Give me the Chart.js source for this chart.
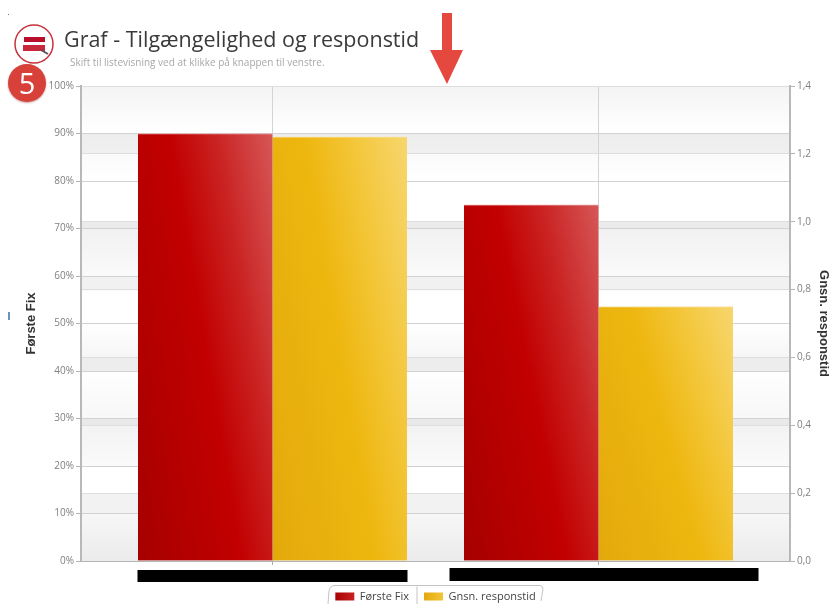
<!DOCTYPE html>
<html>
<head>
<meta charset="utf-8">
<title>Graf - Tilgængelighed og responstid</title>
<script src="https://cdn.jsdelivr.net/npm/chart.js@4"></script>
<style>
  html, body { margin: 0; padding: 0; background: #fff; }
  #wrap { position: relative; width: 831px; height: 604px; overflow: hidden; }
  #myChart { position: absolute; left: 0; top: 0; }
  #heading { position: absolute; left: 64px; top: 24px; margin: 0; font: 400 21.5px "Open Sans", sans-serif; color: #3a3a3a; white-space: nowrap; }
  #sub { position: absolute; left: 70px; top: 55px; font: 10px "Open Sans", sans-serif; color: #a8a8a8; white-space: nowrap; }
  #badge { position: absolute; left: 8px; top: 64px; width: 38px; height: 38px; border-radius: 50%; background: #d8403a; color: #fff;
           font: 29px/37px "Open Sans", sans-serif; text-align: center; box-shadow: 0 1px 2px rgba(120,30,30,.4); }
  svg { position: absolute; left: 0; top: 0; }
</style>
</head>
<body>
<div id="wrap">
  <canvas id="myChart" width="831" height="604"></canvas>
  <svg width="831" height="110">
    <!-- knap til listevisning -->
    <circle cx="34" cy="44" r="19" fill="#fff" stroke="#c8323c" stroke-width="1.5"/>
    <rect x="24" y="37" width="21" height="5" fill="#b8102a"/>
    <rect x="23" y="45" width="22" height="6" fill="#c8283c"/>
    <path d="M41 50 L48 54" stroke="#555" stroke-width="2"/>
    <!-- pil -->
    <path d="M442 13 H452 V50 H463 L447 84 L430 50 H442 Z" fill="#e5483f"/>
  </svg>
  <h1 id="heading">Graf - Tilgængelighed og responstid</h1>
  <div id="sub">Skift til listevisning ved at klikke på knappen til venstre.</div>
  <div id="badge">5</div>
</div>

<script>
// Data (category names are blacked out in the original)
const xPositions = [1, 2];
const firstFix = [90, 75];
const avgResponse = [1.25, 0.75];
const seriesNames = ["Første Fix", "Gnsn. responstid"];

// Bar size and the range of the x axis, so the groups sit where they do in the original
const barWidth = 134.5;
const xMin = 0.4126;
const xMax = 2.5874;

// Colours of the bars, from the dark lower left corner to the light upper right
const redStops = ["#a60000", "#c20000", "#ca2222", "#d65757"];
const yellowStops = ["#e3a90c", "#eeb70f", "#f3c536", "#f7d66e"];

// Grey background strips, in percent on the left axis: from, to, top colour, bottom colour
const bands = [
    [100, 90, "#f4f4f4", "#ffffff"],
    [90, 85.7, "#ededed", "#f0f0f0"],
    [85.7, 80, "#fafafa", "#ffffff"],
    [71.4, 70, "#ebebeb", "#ebebeb"],
    [70, 60, "#f1f1f1", "#fafafa"],
    [60, 57, "#f1f1f1", "#f1f1f1"],
    [50, 43, "#ffffff", "#f6f6f6"],
    [43, 40, "#ededed", "#ededed"],
    [40, 30, "#ffffff", "#f7f7f7"],
    [30, 28.5, "#e9e9e9", "#e9e9e9"],
    [28.5, 20, "#f3f3f3", "#fafafa"],
    [14.3, 10, "#f2f2f2", "#f2f2f2"],
    [10, 0, "#f7f7f7", "#ebebeb"]
];

// Diagonal shine on the bars, the width counts a bit more than the height
function barGradient(context, side, stops) {
    const chart = context.chart;
    if (!chart.chartArea || !context.parsed) return stops[1];
    const centre = chart.scales.x.getPixelForValue(context.parsed.x);
    const left = side < 0 ? centre - barWidth : centre;
    const bottom = chart.chartArea.bottom;
    const h = bottom - chart.scales[context.dataset.yAxisID].getPixelForValue(context.parsed.y);
    const dx = 0.65 / barWidth, dy = 0.35 / h;
    const t = 1 / (dx * dx + dy * dy);
    const g = chart.ctx.createLinearGradient(left, bottom, left + t * dx, bottom - t * dy);
    g.addColorStop(0, stops[0]);
    g.addColorStop(0.5, stops[1]);
    g.addColorStop(0.72, stops[2]);
    g.addColorStop(1, stops[3]);
    return g;
}

// Swatch in the legend with the same shine
function swatch(chart, from, to, stops) {
    const g = chart.ctx.createLinearGradient(from, 0, to, 0);
    g.addColorStop(0, stops[0]);
    g.addColorStop(1, stops[2]);
    return g;
}

// Draws the strips behind the grid lines
const bandPlugin = {
    id: "bands",
    beforeDraw(chart) {
        const ctx = chart.ctx, area = chart.chartArea, y = chart.scales.y;
        bands.forEach(b => {
            const y0 = y.getPixelForValue(b[0]), y1 = y.getPixelForValue(b[1]);
            const g = ctx.createLinearGradient(0, y0, 0, y1);
            g.addColorStop(0, b[2]);
            g.addColorStop(1, b[3]);
            ctx.fillStyle = g;
            ctx.fillRect(area.left, y0, area.right - area.left, y1 - y0);
        });
    }
};

// Moves the legend down into its tab
const legendShiftPlugin = {
    id: "legendShift",
    afterLayout(chart) {
        chart.legend.top += 8;
        chart.legend.bottom += 8;
    }
};

// Black bars over the category names, and the tab around the legend
const extrasPlugin = {
    id: "extras",
    afterDraw(chart) {
        const ctx = chart.ctx, x = chart.scales.x, legend = chart.legend;
        ctx.save();
        ctx.fillStyle = "#000";
        ctx.fillRect(x.getPixelForValue(xPositions[0]) - 135, 570, 270, 12);
        ctx.fillRect(x.getPixelForValue(xPositions[1]) - 149, 568, 309, 13);

        ctx.strokeStyle = "#c4c4c4";
        ctx.lineWidth = 1;
        const l = legend.left + legend.width / 2 - 107.5, r = l + 215, t = 585.5, b = 604;
        ctx.beginPath();
        ctx.moveTo(l, b);
        ctx.lineTo(l + 1, t + 5);
        ctx.quadraticCurveTo(l + 2, t, l + 7, t);
        ctx.lineTo(r - 3, t);
        ctx.quadraticCurveTo(r, t, r, t + 4);
        ctx.lineTo(r - 2, b - 3);
        ctx.stroke();
        ctx.beginPath();
        ctx.moveTo(l + 89, t + 1);
        ctx.lineTo(l + 89, b);
        ctx.stroke();

        // small marks left over in the screenshot
        ctx.fillStyle = "#6f93b8";
        ctx.fillRect(8, 312, 2, 8);
        ctx.fillStyle = "#777";
        ctx.fillRect(8, 14, 1, 1);
        ctx.restore();
    }
};

new Chart("myChart", {
    type: "bar",
    data: {
        datasets: [{
            label: seriesNames[0],
            yAxisID: "y",
            data: firstFix.map((v, i) => ({ x: xPositions[i], y: v })),
            barThickness: barWidth,
            borderWidth: { top: 1 },
            borderColor: "#e9a3a3",
            backgroundColor: c => barGradient(c, -1, redStops)
        }, {
            label: seriesNames[1],
            yAxisID: "y1",
            data: avgResponse.map((v, i) => ({ x: xPositions[i], y: v })),
            barThickness: barWidth,
            borderWidth: { top: 1 },
            borderColor: "#f7e3a6",
            backgroundColor: c => barGradient(c, 1, yellowStops)
        }]
    },
    options: {
        responsive: false,
        animation: false,
        layout: { padding: { top: 86 } },
        scales: {
            x: {
                type: "linear",
                offset: false,
                min: xMin,
                max: xMax,
                afterBuildTicks: scale => { scale.ticks = xPositions.map(v => ({ value: v })); },
                afterFit: scale => { scale.height = 7; },
                ticks: { callback: () => "", padding: 0 },
                grid: { offset: false, color: "#d4d4d4", tickColor: "#aaa", tickLength: 4 },
                border: { color: "#b4b4b4", width: 1 }
            },
            y: {
                position: "left",
                min: 0,
                max: 100,
                afterFit: scale => { scale.width = 81; },
                ticks: {
                    stepSize: 10,
                    padding: 2,
                    color: "#808080",
                    font: { family: "Open Sans", size: 10 },
                    callback: v => v + "%"
                },
                grid: { color: "#d2d2d2", tickColor: "#b4b4b4", tickLength: 5 },
                border: { color: "#b8b8b8", width: 2 },
                title: {
                    display: true,
                    text: seriesNames[0],
                    color: "#333",
                    font: { family: "Liberation Sans", size: 13, weight: "bold" },
                    padding: { top: 24, bottom: 0 }
                }
            },
            y1: {
                position: "right",
                min: 0,
                max: 1.4,
                afterFit: scale => { scale.width = 41; },
                ticks: {
                    stepSize: 0.2,
                    padding: 2,
                    color: "#808080",
                    font: { family: "Open Sans", size: 10 },
                    callback: v => v.toFixed(1).replace(".", ",")
                },
                grid: { color: "#dedede", tickColor: "#b4b4b4", tickLength: 5 },
                border: { color: "#b8b8b8", width: 2 },
                title: {
                    display: true,
                    text: seriesNames[1],
                    color: "#333",
                    font: { family: "Liberation Sans", size: 13, weight: "bold" },
                    padding: { top: 0, bottom: 0 }
                }
            }
        },
        plugins: {
            tooltip: { enabled: false },
            legend: {
                position: "bottom",
                fullSize: false,
                labels: {
                    boxWidth: 19,
                    boxHeight: 8,
                    padding: 15,
                    color: "#444",
                    font: { family: "Open Sans", size: 11 },
                    generateLabels: chart => [
                        { text: seriesNames[0], fontColor: "#444", fillStyle: swatch(chart, 335, 354, redStops), strokeStyle: "#a80000", lineWidth: 0, datasetIndex: 0 },
                        { text: seriesNames[1], fontColor: "#444", fillStyle: swatch(chart, 424, 443, yellowStops), strokeStyle: "#e3a90c", lineWidth: 0, datasetIndex: 1 }
                    ]
                }
            }
        }
    },
    plugins: [bandPlugin, legendShiftPlugin, extrasPlugin]
});
</script>
</body>
</html>
